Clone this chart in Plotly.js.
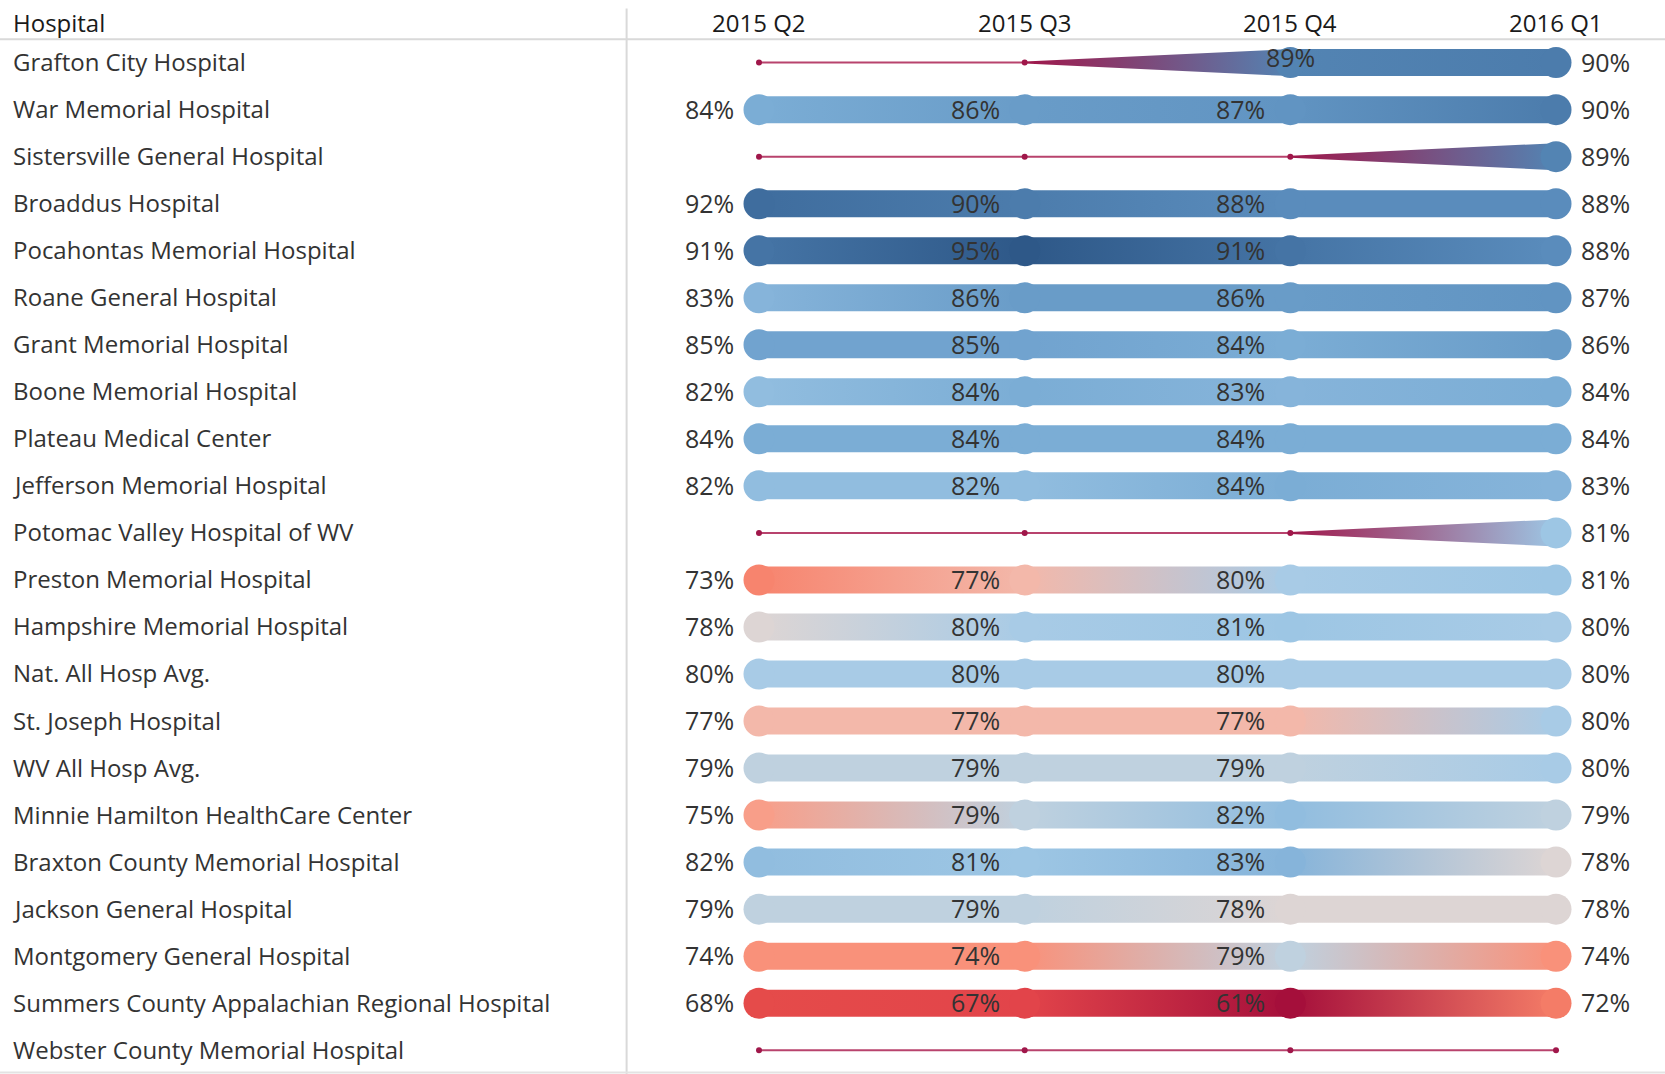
<!DOCTYPE html>
<html>
<head>
<meta charset="utf-8">
<script src="https://cdn.plot.ly/plotly-3.0.1.min.js"></script>
<style>
  html, body { margin: 0; padding: 0; background: #ffffff; }
  #chart { width: 1665px; height: 1074px; }
</style>
</head>
<body>
<div id="chart"></div>
<script>
// ---------------- DATA ----------------
const quarters = ['2015 Q2', '2015 Q3', '2015 Q4', '2016 Q1'];
const hospitals = [
  'Grafton City Hospital',
  'War Memorial Hospital',
  'Sistersville General Hospital',
  'Broaddus Hospital',
  'Pocahontas Memorial Hospital',
  'Roane General Hospital',
  'Grant Memorial Hospital',
  'Boone Memorial Hospital',
  'Plateau Medical Center',
  'Jefferson Memorial Hospital',
  'Potomac Valley Hospital of WV',
  'Preston Memorial Hospital',
  'Hampshire Memorial Hospital',
  'Nat. All Hosp Avg.',
  'St. Joseph Hospital',
  'WV All Hosp Avg.',
  'Minnie Hamilton HealthCare Center',
  'Braxton County Memorial Hospital',
  'Jackson General Hospital',
  'Montgomery General Hospital',
  'Summers County Appalachian Regional Hospital',
  'Webster County Memorial Hospital'
];
const q2015Q2 = [null, 84, null, 92, 91, 83, 85, 82, 84, 82, null, 73, 78, 80, 77, 79, 75, 82, 79, 74, 68, null];
const q2015Q3 = [null, 86, null, 90, 95, 86, 85, 84, 84, 82, null, 77, 80, 80, 77, 79, 79, 81, 79, 74, 67, null];
const q2015Q4 = [89,   87, null, 88, 91, 86, 84, 83, 84, 84, null, 80, 81, 80, 77, 79, 82, 83, 78, 79, 61, null];
const q2016Q1 = [90,   90, 89,   88, 88, 87, 86, 84, 84, 83, 81,   81, 80, 80, 80, 80, 79, 78, 78, 74, 72, null];

// ---------------- STYLE ----------------
const paletteStops = [
  [61, '#a50f3b'], [64, '#c42a40'], [67, '#e2444a'], [68, '#e54b4a'],
  [72, '#f47c67'], [73, '#f7846e'], [74, '#f9917a'], [75, '#f89e89'],
  [77, '#f3b8aa'], [78, '#ddd5d4'], [79, '#bfd1df'], [80, '#a8cbe6'],
  [81, '#9dc6e4'], [82, '#91bddf'], [83, '#86b4da'], [84, '#7badd5'],
  [85, '#71a3cf'], [86, '#699cc8'], [87, '#6194c2'], [88, '#5a8cbc'],
  [89, '#5384b3'], [90, '#4c7cac'], [91, '#4574a5'], [92, '#3f6d9e'],
  [95, '#2e5888']
];
const NULL_COLOR = '#a0174a';
const NULL_LINE = '#b8436d';
const TEXT_COLOR = '#333333';
const HEAD_COLOR = '#1a1a1a';
const FONT = 'Open Sans, sans-serif';
const FS_NAME = 24;
const FS_VAL = 25;

function hexToRgb(h) {
  return [parseInt(h.slice(1, 3), 16), parseInt(h.slice(3, 5), 16), parseInt(h.slice(5, 7), 16)];
}
function valColor(v) {
  if (v <= paletteStops[0][0]) return paletteStops[0][1];
  for (let j = 1; j < paletteStops.length; j++) {
    if (v <= paletteStops[j][0]) {
      const [v0, c0] = paletteStops[j - 1], [v1, c1] = paletteStops[j];
      const t = (v - v0) / (v1 - v0);
      const a = hexToRgb(c0), b = hexToRgb(c1);
      const r = a.map((x, n) => Math.round(x + (b[n] - x) * t));
      return 'rgb(' + r.join(',') + ')';
    }
  }
  return paletteStops[paletteStops.length - 1][1];
}

// ---------------- GEOMETRY (px -> data) ----------------
const W = 1665, H = 1074;
const X0PX = 759, XSTEP = 265.67;   // quarter positions
const Y0PX = 62.6, YSTEP = 47.03;   // row positions
const xRange = [-X0PX / XSTEP, (W - X0PX) / XSTEP];
const yRange = [(H - Y0PX) / YSTEP, -Y0PX / YSTEP];
const HALF = 13.5 / YSTEP;   // half bar thickness
const THIN = 1.0 / YSTEP;    // thin end of taper

const series = [q2015Q2, q2015Q3, q2015Q4, q2016Q1];
const traces = [];
const annotations = [];

const dotX = [], dotY = [], dotC = [];
const nX = [], nY = [];

hospitals.forEach((name, i) => {
  const vals = series.map(s => s[i]);
  for (let k = 0; k < 3; k++) {
    const a = vals[k], b = vals[k + 1];
    if (a == null && b == null) {
      traces.push({
        type: 'scatter', mode: 'lines', x: [k, k + 1], y: [i, i],
        line: { color: NULL_LINE, width: 2 }, hoverinfo: 'skip', showlegend: false
      });
      continue;
    }
    const h0 = a == null ? THIN : HALF;
    const h1 = b == null ? THIN : HALF;
    const c0 = a == null ? NULL_COLOR : valColor(a);
    const c1 = b == null ? NULL_COLOR : valColor(b);
    traces.push({
      type: 'scatter', mode: 'lines',
      x: [k, k + 1, k + 1, k, k],
      y: [i - h0, i - h1, i + h1, i + h0, i - h0],
      fill: 'toself',
      fillgradient: { type: 'horizontal', colorscale: [[0, c0], [1, c1]], start: k, stop: k + 1 },
      line: { width: 0, color: 'rgba(0,0,0,0)' },
      hoverinfo: 'skip', showlegend: false
    });
  }
  vals.forEach((v, k) => {
    if (v == null) { nX.push(k); nY.push(i); return; }
    dotX.push(k); dotY.push(i); dotC.push(valColor(v));
    const prevNull = k > 0 && vals[k - 1] == null;
    let ann = {
      x: k, y: i, xref: 'x', yref: 'y', text: v + '%', showarrow: false,
      font: { family: FONT, size: FS_VAL, color: TEXT_COLOR }, yanchor: 'middle', yshift: 1
    };
    if (k === 3) { ann.xanchor = 'left'; ann.xshift = 23; }
    else if (prevNull) { ann.xanchor = 'center'; ann.yshift = 6; }
    else { ann.xanchor = 'right'; ann.xshift = -23; }
    annotations.push(ann);
  });
  annotations.push({
    x: 11 / W, xref: 'paper', y: i, yref: 'y', text: name, showarrow: false,
    xanchor: 'left', yanchor: 'middle', yshift: 1,
    font: { family: FONT, size: FS_NAME, color: TEXT_COLOR }
  });
});

traces.push({
  type: 'scatter', mode: 'markers', x: nX, y: nY,
  marker: { size: 6, color: NULL_COLOR, line: { width: 0 } },
  hoverinfo: 'skip', showlegend: false
});
traces.push({
  type: 'scatter', mode: 'markers', x: dotX, y: dotY,
  marker: { size: 31, color: dotC, line: { width: 0 } },
  hoverinfo: 'skip', showlegend: false
});

// headers
const headerY = (23.5 - Y0PX) / YSTEP;
annotations.push({
  x: 11 / W, xref: 'paper', y: headerY, yref: 'y', text: 'Hospital', showarrow: false,
  xanchor: 'left', yanchor: 'middle', yshift: 1, font: { family: FONT, size: FS_NAME, color: HEAD_COLOR }
});
quarters.forEach((q, k) => {
  annotations.push({
    x: k, xref: 'x', y: headerY, yref: 'y', text: q, showarrow: false,
    xanchor: 'center', yanchor: 'middle', yshift: 1, font: { family: FONT, size: FS_NAME, color: HEAD_COLOR }
  });
});

const shapes = [
  { type: 'line', xref: 'paper', yref: 'paper', x0: 0, x1: 1, y0: 1 - 39.3 / H, y1: 1 - 39.3 / H,
    line: { color: '#d9d9d9', width: 2 } },
  { type: 'line', xref: 'paper', yref: 'paper', x0: 626.6 / W, x1: 626.6 / W, y0: 0, y1: 1 - 8.5 / H,
    line: { color: '#d9d9d9', width: 2 } },
  { type: 'line', xref: 'paper', yref: 'paper', x0: 0, x1: 1, y0: 1.5 / H, y1: 1.5 / H,
    line: { color: '#e3e3e3', width: 2 } }
];

const layout = {
  width: W, height: H,
  margin: { l: 0, r: 0, t: 0, b: 0, pad: 0 },
  paper_bgcolor: '#ffffff', plot_bgcolor: '#ffffff',
  xaxis: { range: xRange, visible: false, fixedrange: true },
  yaxis: { range: yRange, visible: false, fixedrange: true },
  showlegend: false,
  annotations: annotations,
  shapes: shapes
};

Plotly.newPlot('chart', traces, layout, { staticPlot: true, displayModeBar: false });
</script>
</body>
</html>
